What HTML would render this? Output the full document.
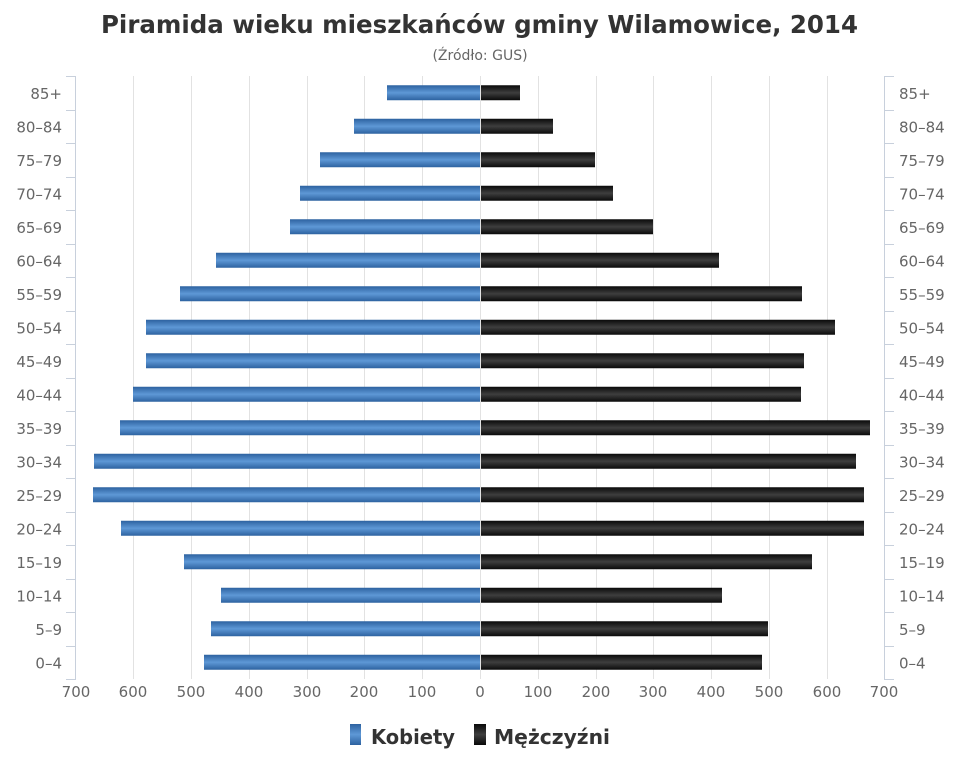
<!DOCTYPE html>
<html><head><meta charset="utf-8"><style>
html,body{margin:0;padding:0;background:#fff;}
svg{display:block;font-family:"DejaVu Sans","Liberation Sans",sans-serif;}
</style></head><body>
<svg width="960" height="768" viewBox="0 0 960 768" xmlns="http://www.w3.org/2000/svg">
<defs>
<linearGradient id="gb" x1="0" y1="0" x2="0" y2="1">
<stop offset="0" stop-color="#2d62a0"/><stop offset="0.5" stop-color="#5e98d6"/><stop offset="1" stop-color="#2d62a0"/></linearGradient>
<linearGradient id="gk" x1="0" y1="0" x2="0" y2="1">
<stop offset="0" stop-color="#0a0a0a"/><stop offset="0.5" stop-color="#3e3e3e"/><stop offset="1" stop-color="#0a0a0a"/></linearGradient>
</defs>
<text x="101" y="33" font-size="25" font-weight="bold" fill="#333" textLength="757" lengthAdjust="spacingAndGlyphs">Piramida wieku mieszkańców gminy Wilamowice, 2014</text>
<text x="480" y="60" text-anchor="middle" font-size="14" fill="#666">(Źródło: GUS)</text>
<g stroke="#e2e2e2" stroke-width="1">
<line x1="133.5" y1="76" x2="133.5" y2="679"/><line x1="191.5" y1="76" x2="191.5" y2="679"/><line x1="249.5" y1="76" x2="249.5" y2="679"/><line x1="307.5" y1="76" x2="307.5" y2="679"/><line x1="364.5" y1="76" x2="364.5" y2="679"/><line x1="422.5" y1="76" x2="422.5" y2="679"/><line x1="480.5" y1="76" x2="480.5" y2="679"/><line x1="538.5" y1="76" x2="538.5" y2="679"/><line x1="596.5" y1="76" x2="596.5" y2="679"/><line x1="653.5" y1="76" x2="653.5" y2="679"/><line x1="711.5" y1="76" x2="711.5" y2="679"/><line x1="769.5" y1="76" x2="769.5" y2="679"/><line x1="827.5" y1="76" x2="827.5" y2="679"/>
</g>
<g stroke="#c8d0dc" stroke-width="1">
<line x1="75.5" y1="76" x2="75.5" y2="679"/><line x1="884.5" y1="76" x2="884.5" y2="679"/>
</g>
<g id="ticks" stroke="#c8d0dc"></g>
<g id="bars"></g>
<g id="labels" font-size="15" fill="#666"></g>
<g font-size="15" fill="#666" text-anchor="middle">
<text x="76" y="697">700</text><text x="133" y="697">600</text><text x="191" y="697">500</text><text x="249" y="697">400</text><text x="307" y="697">300</text><text x="364" y="697">200</text><text x="422" y="697">100</text><text x="480" y="697">0</text><text x="538" y="697">100</text><text x="596" y="697">200</text><text x="653" y="697">300</text><text x="711" y="697">400</text><text x="769" y="697">500</text><text x="827" y="697">600</text><text x="884" y="697">700</text>
</g>
<rect x="350" y="724" width="11" height="21" fill="url(#gb)"/>
<text x="371" y="744" font-size="20" font-weight="bold" fill="#333" textLength="84" lengthAdjust="spacingAndGlyphs">Kobiety</text>
<rect x="474" y="724" width="12" height="21" fill="url(#gk)"/>
<text x="494" y="744" font-size="20" font-weight="bold" fill="#333" textLength="116" lengthAdjust="spacingAndGlyphs">Mężczyźni</text>
<script>
var cats=["85+","80–84","75–79","70–74","65–69","60–64","55–59","50–54","45–49","40–44","35–39","30–34","25–29","20–24","15–19","10–14","5–9","0–4"];
var L=[387,354,320,300,290,216,180,146,146,133,120,94,93,121,184,221,211,204];
var R=[520,553,595,613,653,719,802,835,804,801,870,856,864,864,812,722,768,762];
var ns="http://www.w3.org/2000/svg",step=(679-76)/18;
function el(p,t,a,txt){var e=document.createElementNS(ns,t);for(var k in a)e.setAttribute(k,a[k]);if(txt)e.textContent=txt;p.appendChild(e);}
var b=document.getElementById("bars"),lb=document.getElementById("labels"),tk=document.getElementById("ticks");
for(var i=0;i<=18;i++){var y=Math.round(76+i*step)+0.5;el(tk,"line",{x1:66,y1:y,x2:76,y2:y});el(tk,"line",{x1:884,y1:y,x2:894,y2:y});}
for(var i=0;i<18;i++){var c=76+(i+0.5)*step;
el(b,"rect",{x:L[i],y:c-7.5,width:480-L[i],height:15,fill:"url(#gb)"});
el(b,"rect",{x:481,y:c-7.5,width:R[i]-481,height:15,fill:"url(#gk)"});
el(lb,"text",{x:62,y:c+6,"text-anchor":"end"},cats[i]);
el(lb,"text",{x:899,y:c+6},cats[i]);}
</script>
</svg>
</body></html>
